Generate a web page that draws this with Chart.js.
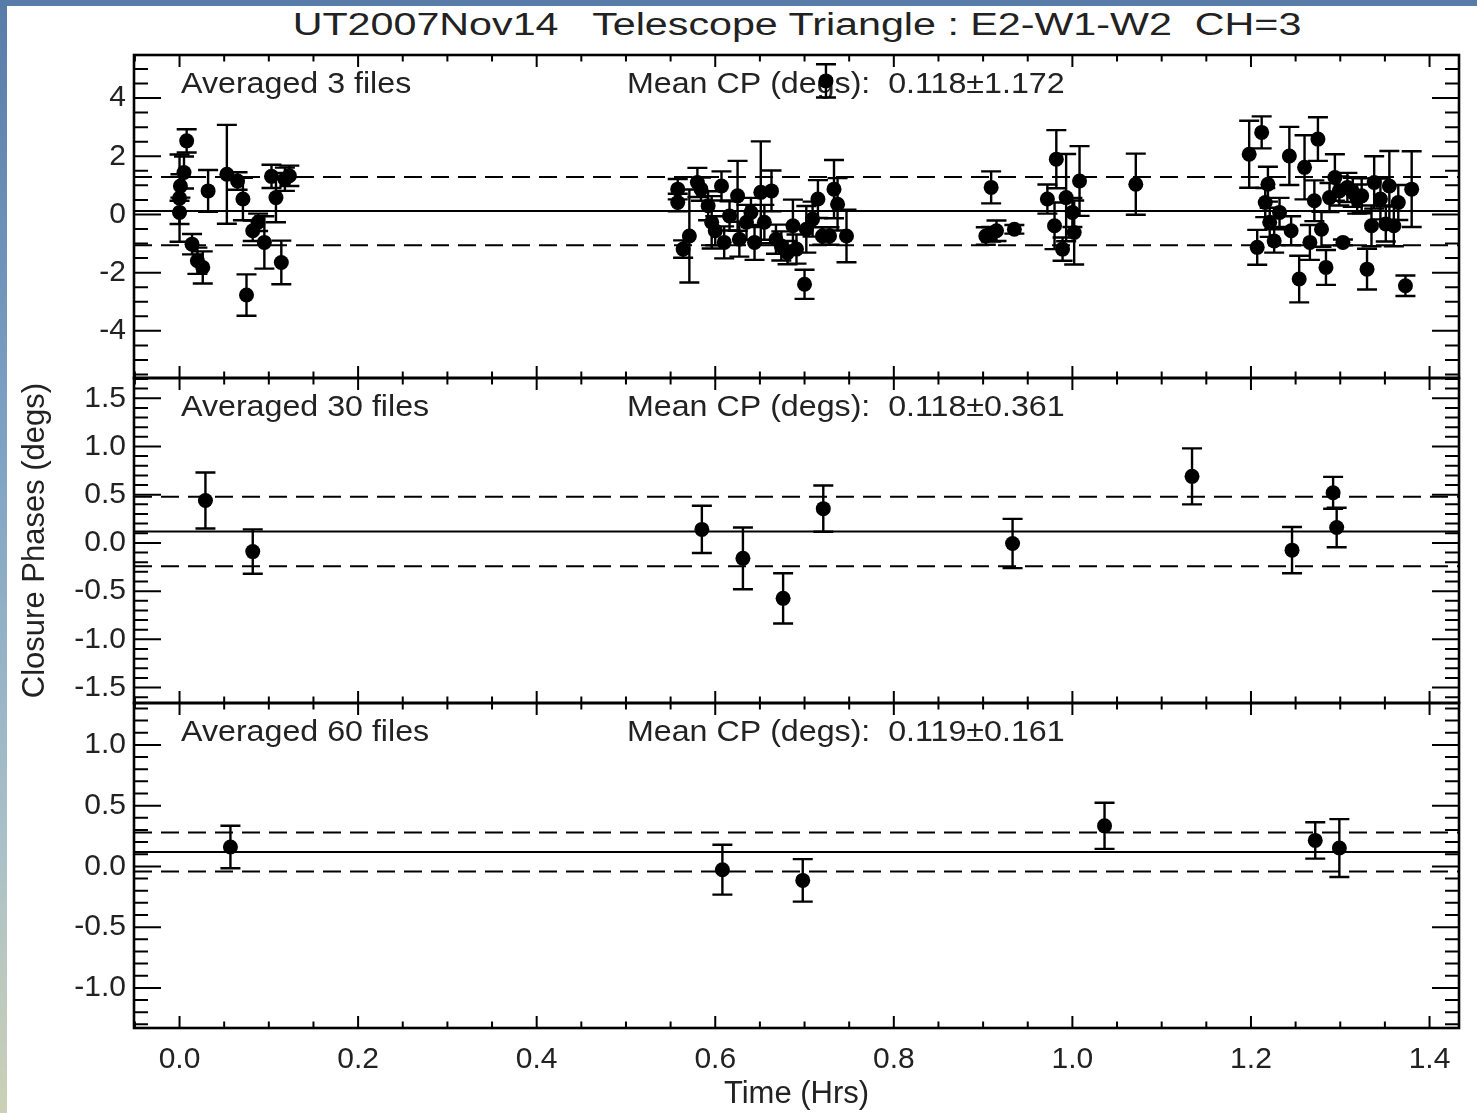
<!DOCTYPE html>
<html>
<head>
<meta charset="utf-8">
<title>Closure phases E2-W1-W2</title>
<script src="https://cdn.jsdelivr.net/npm/chart.js@4.4.1/dist/chart.umd.min.js"></script>
<style>
html, body { margin: 0; padding: 0; }
body {
    width: 1477px; height: 1113px; overflow: hidden; position: relative;
    background: linear-gradient(to bottom, #587ca8 0%, #7fa2c4 40%, #a9c0c8 75%, #ccd0b6 100%);
}
#sheet { position: absolute; left: 7px; top: 6px; right: 0; bottom: 0; background: #fff; }
#title {
    position: absolute; left: 797px; top: 9px;
    font: 31px/31px 'Liberation Sans', Arial, Helvetica, sans-serif;
    color: #222; white-space: pre;
    transform: translateX(-50%) scaleX(1.33);
}
canvas { position: absolute; left: 0; top: 0; }
</style>
</head>
<body>
<div id="sheet"></div>
<div id="title">UT2007Nov14   Telescope Triangle : E2-W1-W2  CH=3</div>
<canvas id="p3" width="1477" height="1113"></canvas>
<canvas id="p30" width="1477" height="1113"></canvas>
<canvas id="p60" width="1477" height="1113"></canvas>
<script>
const FONT = "'Liberation Sans', Arial, Helvetica, sans-serif";
const INK = "#222";

// averaged over 3 files
const t3 = [0.000, 0.000, 0.001, 0.005, 0.008, 0.014, 0.020, 0.026, 0.032, 0.053, 0.065, 0.071, 0.075, 0.082, 0.088, 0.095, 0.103, 0.108, 0.114, 0.118, 0.123,
    0.558, 0.558, 0.564, 0.571, 0.580, 0.584, 0.592, 0.596, 0.600, 0.607, 0.610, 0.616, 0.625, 0.627, 0.635, 0.640, 0.644, 0.651, 0.655, 0.663, 0.668, 0.674, 0.681, 0.687, 0.691, 0.700, 0.702, 0.709, 0.715, 0.720, 0.724, 0.728, 0.733, 0.737, 0.747,
    0.903, 0.909, 0.909, 0.915, 0.935, 0.972, 0.980, 0.982, 0.989, 0.993, 1.000, 1.002, 1.008, 1.071,
    1.198, 1.207, 1.212, 1.216, 1.219, 1.221, 1.226, 1.232, 1.243, 1.245, 1.254, 1.260, 1.266, 1.271, 1.275, 1.279, 1.284, 1.288, 1.294, 1.299, 1.303, 1.308, 1.314, 1.319, 1.324, 1.330, 1.335, 1.338, 1.345, 1.351, 1.355, 1.360, 1.365, 1.373, 1.380];
const cp3 = [0.07, 0.56, 0.98, 1.44, 2.53, -1.02, -1.59, -1.82, 0.81, 1.38, 1.15, 0.53, -2.77, -0.56, -0.27, -0.96, 1.31, 0.58, -1.65, 1.21, 1.33,
    0.87, 0.41, -1.19, -0.74, 1.10, 0.87, 0.30, -0.27, -0.56, 0.98, -0.96, -0.05, 0.64, -0.85, -0.27, 0.07, -0.96, 0.76, -0.27, 0.81, -0.85, -1.08, -1.31, -0.39, -1.19, -2.40, -0.51, -0.16, 0.53, -0.74, 4.59, -0.74, 0.87, 0.35, -0.74,
    -0.74, 0.93, -0.68, -0.56, -0.51, 0.53, -0.39, 1.90, -1.19, 0.58, 0.07, -0.62, 1.15, 1.04,
    2.07, -1.13, 2.82, 0.41, 1.04, -0.27, -0.91, 0.07, 2.01, -0.56, -2.22, 1.62, -0.96, 0.47, 2.59, -0.51, -1.82, 0.58, 1.27, 0.81, -0.96, 0.93, 0.76, 0.53, 0.64, -1.88, -0.39, 1.10, 0.53, -0.33, 0.98, -0.39, 0.41, -2.45, 0.87];
const e3 = [0.4, 1.5, 0.4, 0.55, 0.4, 0.35, 0.45, 0.55, 0.72, 1.7, 0.3, 0.73, 0.71, 0.35, 0.3, 0.9, 0.4, 0.85, 0.75, 0.4, 0.35,
    0.35, 0.3, 0.3, 1.6, 0.5, 0.4, 0.5, 0.9, 0.5, 0.5, 0.55, 0.5, 1.2, 0.6, 0.6, 0.5, 0.6, 1.75, 0.6, 0.7, 0.5, 0.5, 0.4, 0.9, 0.5, 0.5, 0.8, 0.6, 0.65, 0.3, 0.57, 0.3, 1.0, 0.9, 0.9,
    0.3, 0.55, 0.25, 0.35, 0.15, 0.5, 0.8, 1.0, 0.4, 1.5, 0.5, 1.1, 1.2, 1.05,
    1.15, 0.6, 0.55, 0.5, 0.6, 0.5, 0.4, 0.5, 1.0, 0.5, 0.8, 1.1, 0.6, 0.7, 0.75, 0.6, 0.6, 0.5, 0.8, 0.5, 0.1, 0.5, 0.5, 0.5, 0.6, 0.7, 0.7, 0.9, 0.7, 0.6, 1.2, 0.7, 0.6, 0.35, 1.3];

// averaged over 30 files
const t30 = [0.029, 0.082, 0.585, 0.631, 0.676, 0.721, 0.933, 1.134, 1.246, 1.292, 1.296];
const cp30 = [0.44, -0.09, 0.14, -0.16, -0.575, 0.355, -0.006, 0.69, -0.075, 0.52, 0.16];
const e30 = [0.29, 0.23, 0.245, 0.32, 0.26, 0.24, 0.255, 0.29, 0.24, 0.165, 0.205];

// averaged over 60 files
const t60 = [0.057, 0.608, 0.698, 1.036, 1.272, 1.299];
const cp60 = [0.16, -0.027, -0.115, 0.334, 0.214, 0.151];
const e60 = [0.175, 0.205, 0.175, 0.19, 0.15, 0.238];

const nFiles = [3, 30, 60];
const meanCP = [0.118, 0.118, 0.119];
const sigCP = [1.172, 0.361, 0.161];

const xTicks = [0.0, 0.2, 0.4, 0.6, 0.8, 1.0, 1.2, 1.4];
const yTicks3 = [-4, -2, 0, 2, 4];
const yTicks30 = [-1.5, -1.0, -0.5, 0.0, 0.5, 1.0, 1.5];
const yTicks60 = [-1.0, -0.5, 0.0, 0.5, 1.0];
const xRange = [-0.051, 1.433];

const panels = [
    { id: "p3", t: t3, cp: cp3, err: e3, yTicks: yTicks3, yMin: -5.62, yMax: 5.48, minor: 0.5, digits: 0, top: 55, bottom: 378 },
    { id: "p30", t: t30, cp: cp30, err: e30, yTicks: yTicks30, yMin: -1.66, yMax: 1.71, minor: 0.1, digits: 1, top: 378, bottom: 703, yTitle: true },
    { id: "p60", t: t60, cp: cp60, err: e60, yTicks: yTicks60, yMin: -1.33, yMax: 1.345, minor: 0.1, digits: 1, top: 703, bottom: 1028, xAxis: true }
];

// the two labels inside each panel
const panelText = {
    id: "panelText",
    beforeDatasetsDraw(chart, args, opts) {
        const { ctx, chartArea } = chart;
        ctx.save();
        ctx.fillStyle = INK;
        ctx.font = "29px " + FONT;
        ctx.textBaseline = "middle";
        [[chartArea.left + 47, opts.left], [chartArea.left + 493, opts.right]].forEach(([x, txt]) => {
            ctx.save();
            ctx.translate(x, chartArea.top + 30);
            ctx.scale(1.11, 1);
            ctx.fillText(txt, 0, 0);
            ctx.restore();
        });
        ctx.restore();
    }
};

const errorBars = {
    id: "errorBars",
    afterDatasetsDraw(chart) {
        const { ctx, chartArea, scales: { x, y } } = chart;
        ctx.save();
        ctx.beginPath();
        ctx.rect(chartArea.left, chartArea.top, chartArea.width, chartArea.height);
        ctx.clip();
        ctx.strokeStyle = "#000";
        ctx.lineWidth = 2.4;
        chart.data.datasets.forEach(ds => {
            if (!ds.errors) return;
            ds.data.forEach((p, i) => {
                const px = x.getPixelForValue(p.x);
                const hi = y.getPixelForValue(p.y + ds.errors[i]);
                const lo = y.getPixelForValue(p.y - ds.errors[i]);
                ctx.beginPath();
                ctx.moveTo(px, hi); ctx.lineTo(px, lo);
                ctx.moveTo(px - 10, hi); ctx.lineTo(px + 10, hi);
                ctx.moveTo(px - 10, lo); ctx.lineTo(px + 10, lo);
                ctx.stroke();
            });
        });
        ctx.restore();
    }
};

// box with inward ticks on all four sides, IDL style
const idlAxes = {
    id: "idlAxes",
    afterDraw(chart, args, opts) {
        const { ctx, chartArea: a, scales: { x, y } } = chart;
        ctx.save();
        ctx.strokeStyle = "#000";
        ctx.lineWidth = 2;
        ctx.beginPath();
        const steps = (scale, step, fn) => {
            for (let i = Math.ceil(scale.min / step - 1e-9); i * step <= scale.max + 1e-9; i++) {
                fn(scale.getPixelForValue(i * step));
            }
        };
        const yTick = (py, len) => {
            ctx.moveTo(a.left, py); ctx.lineTo(a.left + len, py);
            ctx.moveTo(a.right, py); ctx.lineTo(a.right - len, py);
        };
        const xTick = (px, len) => {
            ctx.moveTo(px, a.top); ctx.lineTo(px, a.top + len);
            ctx.moveTo(px, a.bottom); ctx.lineTo(px, a.bottom - len);
        };
        steps(y, opts.minor, py => yTick(py, 14));
        opts.yTicks.forEach(v => yTick(y.getPixelForValue(v), 27));
        steps(x, 0.05, px => xTick(px, 6.5));
        xTicks.forEach(v => xTick(x.getPixelForValue(v), 12));
        ctx.stroke();
        ctx.lineWidth = 2.6;
        ctx.strokeRect(a.left, a.top, a.width, a.height);
        ctx.restore();
    }
};

const hLine = (v, dash) => ({
    data: [{ x: xRange[0], y: v }, { x: xRange[1], y: v }],
    showLine: true,
    borderColor: "#000",
    borderWidth: 2,
    borderDash: dash,
    pointRadius: 0
});

panels.forEach((p, k) => {
    const ctx = document.getElementById(p.id);
    new Chart(ctx.getContext("2d"), {
        type: "scatter",
        data: {
            datasets: [
                {
                    data: p.t.map((t, i) => ({ x: t, y: p.cp[i] })),
                    errors: p.err,
                    pointRadius: 7.5,
                    pointBackgroundColor: "#000",
                    pointBorderWidth: 0
                },
                hLine(meanCP[k], []),
                hLine(meanCP[k] + sigCP[k], [18, 9]),
                hLine(meanCP[k] - sigCP[k], [18, 9])
            ]
        },
        options: {
            responsive: false,
            animation: false,
            devicePixelRatio: 1,
            events: [],
            layout: { padding: { top: p.top, bottom: p.xAxis ? 0 : 1113 - p.bottom, left: 0, right: 18 } },
            scales: {
                x: {
                    type: "linear",
                    min: xRange[0],
                    max: xRange[1],
                    display: !!p.xAxis,
                    grid: { display: false, drawTicks: false },
                    border: { display: false },
                    afterBuildTicks: s => { s.ticks = xTicks.map(v => ({ value: v })); },
                    afterFit: s => { s.height = p.xAxis ? 85 : 0; },
                    ticks: { font: { family: FONT, size: 30 }, color: INK, padding: 14, maxRotation: 0, autoSkip: false, callback: v => v.toFixed(1) },
                    title: { display: true, text: "Time (Hrs)", font: { family: FONT, size: 31 }, color: INK, padding: { top: 0, bottom: 0 } }
                },
                y: {
                    type: "linear",
                    min: p.yMin,
                    max: p.yMax,
                    grid: { display: false, drawTicks: false },
                    border: { display: false },
                    afterBuildTicks: s => { s.ticks = p.yTicks.map(v => ({ value: v })); },
                    afterFit: s => { s.width = 134; },
                    ticks: { font: { family: FONT, size: 30 }, color: INK, padding: 8, autoSkip: false, callback: v => v.toFixed(p.digits) },
                    title: { display: !!p.yTitle, text: "Closure Phases (degs)", font: { family: FONT, size: 31 }, color: INK, padding: { top: 17, bottom: 0 } }
                }
            },
            plugins: {
                legend: { display: false },
                tooltip: { enabled: false },
                panelText: {
                    left: "Averaged " + nFiles[k] + " files",
                    right: "Mean CP (degs):  " + meanCP[k].toFixed(3) + "\u00b1" + sigCP[k].toFixed(3)
                },
                idlAxes: { minor: p.minor, yTicks: p.yTicks }
            }
        },
        plugins: [panelText, errorBars, idlAxes]
    });
});
</script>
</body>
</html>
